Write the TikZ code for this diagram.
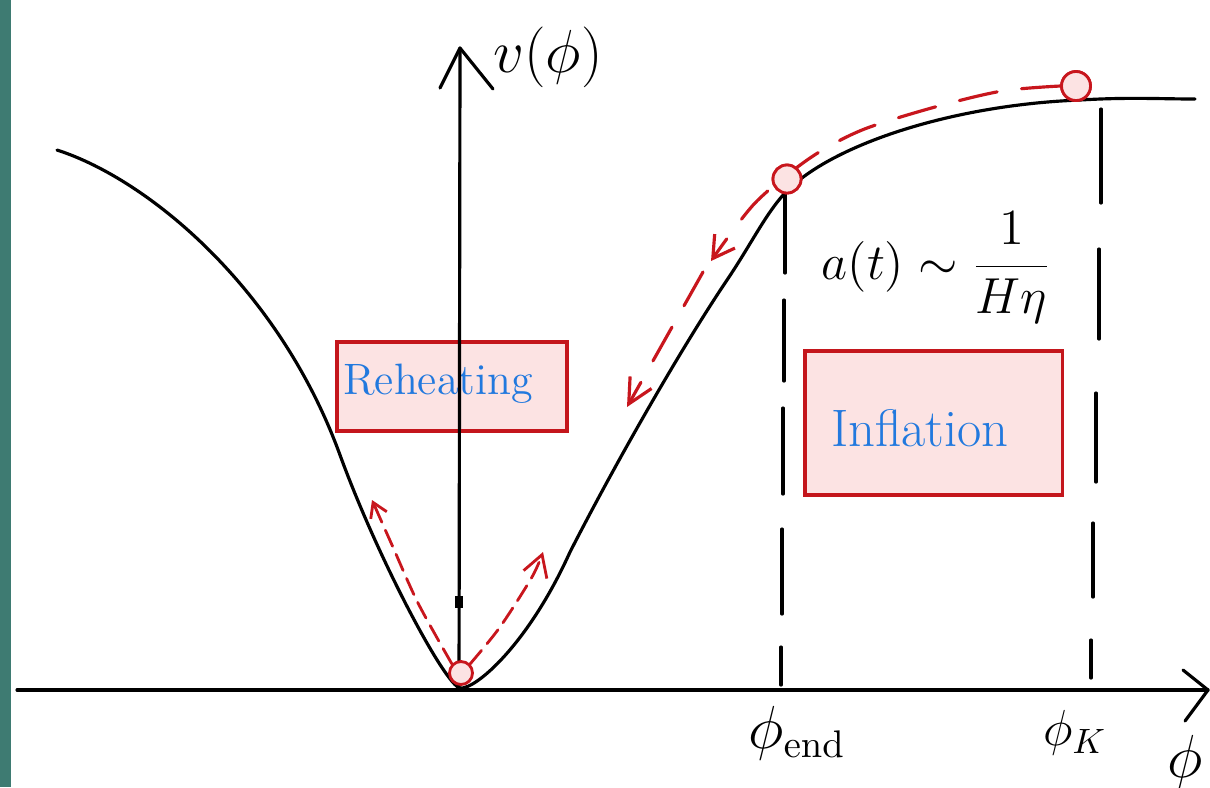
\documentclass[tikz,border=0pt]{standalone}
\usetikzlibrary{arrows.meta}
\definecolor{stripteal}{HTML}{3E7B72}
\definecolor{boxred}{HTML}{C4161C}
\definecolor{boxfill}{HTML}{FCE3E3}
\definecolor{inkblue}{HTML}{2279DE}
\definecolor{arrred}{HTML}{C8161D}
\begin{document}
\begin{tikzpicture}[x=0.01cm,y=-0.01cm,
  ink/.style={line width=0.9pt, line cap=round, line join=round},
  regionbox/.style={draw=boxred, fill=boxfill, line width=0.9pt, inner sep=0pt},
  ball/.style={circle, draw=arrred, fill=boxfill, line width=0.8pt, inner sep=0pt},
  flow/.style={draw=arrred, line width=0.9pt, line cap=round, dash pattern=on 11pt off 7pt},
  smallflow/.style={draw=arrred, line width=0.8pt, line cap=round, dash pattern=on 5pt off 2.5pt},
  bigtip/.style={-{Straight Barb[length=7pt,width=7pt]}},
  smalltip/.style={-{Straight Barb[length=4pt,width=5pt]}},
  midtip/.style={-{Straight Barb[length=6pt,width=7pt]}},
  lbl/.style={inner sep=0pt}
]
\useasboundingbox (0,0) rectangle (1210,787);
\fill[white] (0,0) rectangle (1210,787);
\fill[stripteal] (0,0) rectangle (11,787);

% boxes
\node[regionbox, minimum width=2.30cm, minimum height=0.89cm] (reh) at (452,386.5) {};
\node[regionbox, minimum width=2.57cm, minimum height=1.44cm] (inf) at (933.5,423) {};
\node[lbl, text=inkblue, font=\fontsize{12.5}{15}\selectfont] (rtext) at (438,384) {Reheating};
\node[lbl, text=inkblue, font=\fontsize{15}{17}\selectfont] (itext) at (920,428) {Inflation};

% potential curve
\draw[ink] (57,150) .. controls (150,180) and (280,290) .. (340,455)
  .. controls (378,559) and (445,685) .. (460,688)
  .. controls (475,690) and (528,645) .. (570,552)
  .. controls (615,464) and (680,350) .. (727,280)
  .. controls (750,246) and (765,215) .. (784,194)
  .. controls (828,146) and (950,105) .. (1080,100)
  .. controls (1130,97) and (1160,99) .. (1195,99);

% axes
\coordinate (xs) at (17,690);
\coordinate (xe) at (1208,690);
\coordinate (ys) at (459,690);
\coordinate (ye) at (460,48);
\draw[ink] (xs) -- (xe);
\draw[ink] (1183,670) -- (xe) -- (1185,721);
\draw[ink] (ys) -- (ye);
\draw[ink] (440,88) -- (ye) -- (493,89);
\draw[line width=2pt] (459,596) -- (459,608);

% vertical dashed guides
\foreach \xa/\ya/\xb/\yb in {785/192/785/273, 784/300/784/381, 783/408/783/494, 782/529/782/614, 781/647/781/685,
  1101/109/1101/203, 1099/249/1099/339, 1096/393/1096/482, 1093/523/1093/597, 1091/640/1091/678}
  \draw[ink] (\xa,\ya) -- (\xb,\yb);

% labels
\node[lbl, font=\fontsize{16}{18}\selectfont] (vlab) at (548,57) {$v(\phi)$};
\node[lbl, anchor=west, font=\fontsize{14}{16}\selectfont] (alab) at (821,268) {$a(t)\sim\displaystyle\frac{1}{H\eta}$};
\node[lbl, font=\fontsize{16}{18}\selectfont] (pend) at (797,733) {$\phi_{\mathrm{end}}$};
\node[lbl, font=\fontsize{14}{16}\selectfont] (pk) at (1075,733) {$\phi_K$};
\node[lbl, font=\fontsize{16}{18}\selectfont] (pax) at (1185,762) {$\phi$};

% balls (positions)
\node[ball, minimum size=0.28cm] (c1) at (787,179) {};
\node[ball, minimum size=0.29cm] (c2) at (1076,86) {};
\node[ball, minimum size=0.23cm] (c3) at (461,673) {};

% red flow arrows
\coordinate (m1) at (711,261);
\coordinate (m2) at (703,272);
\coordinate (t2) at (627,407);
\draw[flow, midtip] plot[smooth, tension=0.5] coordinates {(c2.west) (1002,91) (935,107) (862,130) (810,158) (755,203) (m1)};
\draw[flow, bigtip] (m2) -- (t2);
\draw[smallflow, smalltip] plot[smooth, tension=0.5] coordinates {(c3.north west) (418,603) (392,545) (372,500)};
\draw[smallflow, midtip] plot[smooth, tension=0.5] coordinates {(c3.north east) (500,627) (532,577) (543,552)};
% balls redrawn on top of the flow lines
\node[ball, minimum size=0.28cm] (c1top) at (c1) {};
\node[ball, minimum size=0.29cm] (c2top) at (c2) {};
\end{tikzpicture}
\end{document}
